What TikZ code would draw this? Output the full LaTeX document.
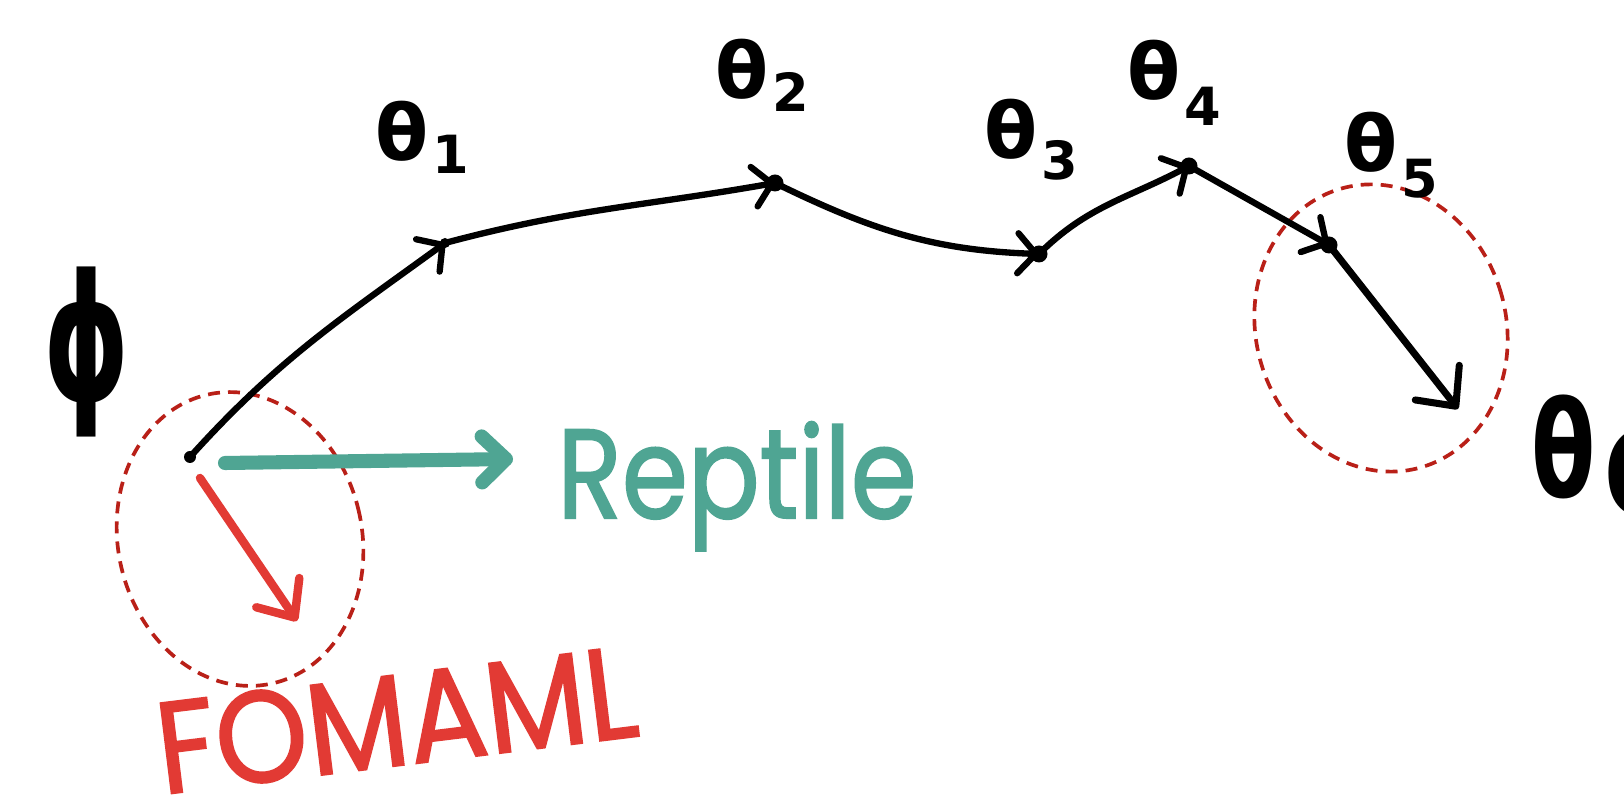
\documentclass[tikz,border=0pt]{standalone}
\usepackage{fontspec}
\setmainfont{Poppins}
\newfontfamily\greekfont{DejaVu Sans}
\newfontfamily\markerfont{Poppins}[FakeBold=1.6]
\usetikzlibrary{arrows.meta}
\definecolor{inkred}{RGB}{226,58,52}
\definecolor{inkteal}{RGB}{79,165,147}
\definecolor{dashred}{RGB}{185,32,24}
\newcommand\thlab[3]{{\greekfont\bfseries\fontsize{#3}{#3}\selectfont θ\kern1pt\raisebox{#2}{\fontsize{0.68\dimexpr #3pt\relax}{10}\selectfont #1}}}
\begin{document}
\begin{tikzpicture}[x=0.01cm,y=0.01cm,
  pathline/.style={line width=1.8pt,line cap=round,line join=round},
  stepar/.style={pathline,-{Straight Barb[length=1.8mm,width=4mm,round]}},
  bigar/.style={pathline,line width=2pt,-{Straight Barb[length=3mm,width=5.6mm,round]}},
  tealar/.style={inkteal,line width=4pt,line cap=round,line join=round,-{Straight Barb[length=2.4mm,width=4.6mm,round]}},
  redar/.style={inkred,line width=2.4pt,line cap=round,line join=round,-{Straight Barb[length=3mm,width=5.2mm,round]}},
  region/.style={dashred,line width=1.05pt,dash pattern=on 3.4pt off 2.3pt},
  lab/.style={inner sep=0pt},
]
\clip (0,0) rectangle (1624,803);
\fill[white] (0,0) rectangle (1624,803);

% points
\coordinate (p0) at (190,346);
\coordinate (t1) at (445,560);
\coordinate (t2) at (775,620);
\coordinate (t3) at (1039,549);
\coordinate (t4) at (1189,637);
\coordinate (t5) at (1329,558);
\coordinate (t6) at (1458,394);
\coordinate (rs) at (225,340);
\coordinate (re) at (513,344);
\coordinate (fs) at (200,325);
\coordinate (fe) at (297,182);
\coordinate (c1) at (240,264);
\coordinate (c2) at (1381,475);

% dashed regions
\draw[region,rotate around={12.5:(c1)}] (c1) ellipse [x radius=122, y radius=148];
\draw[region,rotate around={16:(c2)}] (c2) ellipse [x radius=125, y radius=145];

% black path
\draw[stepar] (p0) to[out=48,in=216] (t1);
\draw[stepar] (t1) to[out=15,in=190] (t2);
\draw[stepar] (t2) to[out=-26,in=178] (t3);
\draw[stepar] (t3) to[out=45,in=208] (t4);
\draw[stepar] (t4) -- (t5);
\draw[bigar] (t5) -- (t6);
\foreach \p in {t2,t3,t4,t5} \fill (\p) circle (8.5);
\fill (t1) circle (5);
\fill (p0) circle (6);

% Reptile and FOMAML
\draw[tealar] (rs) -- (re);
\draw[redar] (fs) -- (fe);

% labels
\node[lab] (l0) at (87,451) {\scalebox{0.62}[1]{\greekfont\bfseries\fontsize{50}{50}\selectfont ϕ}};
\node[lab] (l1) at (422,666) {\thlab{1}{-0.3ex}{22}};
\node[lab] (l2) at (762,728) {\thlab{2}{-0.3ex}{22}};
\node[lab] (l3) at (1031,663) {\thlab{3}{-0.5ex}{22}};
\node[lab] (l4) at (1174,720) {\thlab{4}{-0.6ex}{22}};
\node[lab] (l5) at (1391,648) {\thlab{5}{-0.6ex}{22}};
\node[lab,anchor=west] (l6) at (1531,347) {\greekfont\bfseries\fontsize{38}{38}\selectfont\scalebox{0.7}[1]{θ}\kern1.5pt\raisebox{-0.25ex}{\fontsize{34}{34}\selectfont 6}};

\node[lab,anchor=base,inkteal] (reptile) at (737,285) {\scalebox{0.84}[1]{\markerfont\fontsize{36}{40}\selectfont Reptile}};
\node[lab,anchor=base,inkred,rotate=7] (fomaml) at (402,38) {\scalebox{0.9}[1]{\markerfont\fontsize{37}{40}\selectfont FOMAML}};
\end{tikzpicture}
\end{document}
